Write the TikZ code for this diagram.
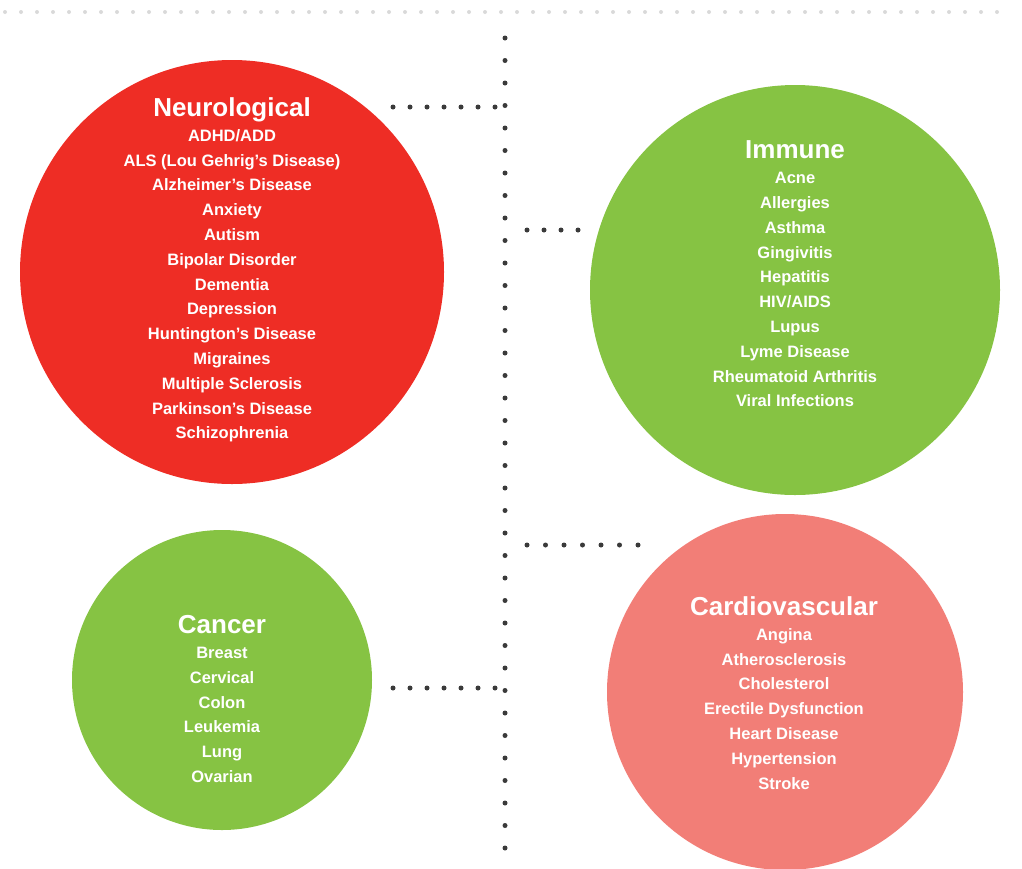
\documentclass[tikz,border=0pt]{standalone}
\usepackage{fontspec}
\setmainfont{Liberation Sans}
\usetikzlibrary{positioning}
\definecolor{neurored}{HTML}{EE2D25}
\definecolor{leafgreen}{HTML}{86C343}
\definecolor{softred}{HTML}{F27E77}
\definecolor{dotgray}{HTML}{3A3A3A}
\tikzset{group/.style={circle,inner sep=0pt}}
\tikzset{label/.style={text=white,align=center,font=\bfseries\fontsize{16.5}{24.8}\selectfont}}
\tikzset{dots/.style={line width=5pt,line cap=round,dash pattern=on 0pt off 17pt,draw=dotgray}}
\newcommand{\heading}[1]{{\fontsize{26}{24.8}\selectfont #1}}
\begin{document}
\begin{tikzpicture}[x=1pt,y=-1pt]
  \useasboundingbox (0,0) rectangle (1022,868);
  \draw[dots,draw=gray!30,line width=4pt,dash pattern=on 0pt off 16pt] (5,12) -- (1010,12);
  \draw[dots,dash pattern=on 0pt off 22.5pt] (505,38) -- (505,858);
                \node[group,fill=neurored,minimum size=424pt] (neuro) at (232,272) {};
                \node[group,fill=leafgreen,minimum size=410pt] (immune) at (795,290) {};
                \node[group,fill=leafgreen,minimum size=300pt] (cancer) at (222,680) {};
                \node[group,fill=softred,minimum size=356pt] (cardio) at (785,692) {};
                \node[label] (neurotext) at (232,270) {\heading{Neurological}\\ADHD/ADD\\ALS (Lou Gehrig's Disease)\\Alzheimer's Disease\\Anxiety\\Autism\\Bipolar Disorder\\Dementia\\Depression\\Huntington's Disease\\Migraines\\Multiple Sclerosis\\Parkinson's Disease\\Schizophrenia};
                \node[label] (immunetext) at (795,274) {\heading{Immune}\\Acne\\Allergies\\Asthma\\Gingivitis\\Hepatitis\\HIV/AIDS\\Lupus\\Lyme Disease\\Rheumatoid Arthritis\\Viral Infections};
                \node[label] (cancertext) at (222,699) {\heading{Cancer}\\Breast\\Cervical\\Colon\\Leukemia\\Lung\\Ovarian};
                \node[label] (cardiotext) at (784,693) {\heading{Cardiovascular}\\Angina\\Atherosclerosis\\Cholesterol\\Erectile Dysfunction\\Heart Disease\\Hypertension\\Stroke};
                \coordinate (s1) at (495,107);
                \coordinate (s2) at (527,230);
                \coordinate (s3) at (527,545);
                \coordinate (s4) at (495,688);
                \coordinate (n1) at (393,107);
                \coordinate (i1) at (578,230);
                \coordinate (c1) at (638,545);
                \coordinate (k1) at (393,688);
                    \draw[dots] (s1) -- (n1);
                    \draw[dots] (s2) -- (i1);
                    \draw[dots,dash pattern=on 0pt off 18.5pt] (s3) -- (c1);
                    \draw[dots] (s4) -- (k1);
            \end{tikzpicture}
\end{document}
